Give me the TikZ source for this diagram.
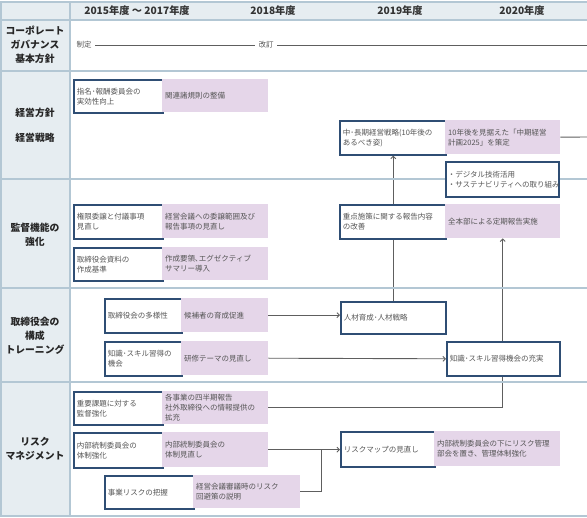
\documentclass[tikz,border=0pt]{standalone}
\usepackage{fontspec}
\setmainfont{Noto Sans CJK JP}
\usepackage{tikz}
\usetikzlibrary{arrows.meta,backgrounds}
\definecolor{navy}{HTML}{2F4E74}
\definecolor{lilac}{HTML}{E5D6E9}
\definecolor{pale}{HTML}{E6EDF1}
\definecolor{rulecol}{HTML}{B3C7D4}
\definecolor{ink}{HTML}{555555}
\definecolor{conncol}{HTML}{5E5E5E}

\begin{document}
\begin{tikzpicture}[x=1pt, y=-1pt,
	head/.style={font=\fontsize{10.2}{12}\selectfont\bfseries, text=black!80},
	lbl/.style={font=\fontsize{9.8}{14}\selectfont\bfseries, align=center, text=black!85},
	txt/.style={font=\fontsize{7.5}{10}\selectfont, text=ink},
	keybox/.style={txt, draw=navy, line width=1.6pt, fill=white, anchor=north west, align=left, inner xsep=3pt, inner ysep=0pt},
	actbox/.style={txt, fill=lilac, anchor=north west, align=left, inner xsep=3pt, inner ysep=0pt},
	gridline/.style={draw=rulecol, line width=1.2pt},
	conn/.style={draw=conncol, line width=0.9pt},
	>={Straight Barb[length=2.5pt,width=5pt]}]
	\useasboundingbox (0,0) rectangle (587,518);
	\fill[pale] (0,2) rectangle (587,20);
	\fill[pale] (0,20) rectangle (70,516);
	\foreach \y in {2,20,71,179,288,382,516}
		\draw[gridline] (0,\y) -- (587,\y);
	\draw[gridline] (1,2) -- (1,516) (70,2) -- (70,516);

	\node[head] (y1517) at (137,11) {2015年度 ～ 2017年度};
	\node[head] (y18) at (273,11) {2018年度};
	\node[head] (y19) at (400,11) {2019年度};
	\node[head] (y20) at (522,11) {2020年度};

	\node[lbl] (cg) at (35,45) {コーポレート\\ガバナンス\\基本方針};
	\node[lbl] (plan) at (35,125.5) {経営方針\\[11pt]経営戦略};
	\node[lbl] (sup) at (35,235) {監督機能の\\強化};
	\node[lbl] (brd) at (35,336) {取締役会の\\構成\\トレーニング};
	\node[lbl] (risk) at (35,449) {リスク\\マネジメント};

	\node[txt] (seitei) at (84,45) {制定};
	\node[txt] (kaitei) at (266,45) {改訂};
	\coordinate (cgend) at (587,45);

	\node[keybox, text width=83pt, minimum height=33pt] (a1) at (73,79) {指名･報酬委員会の\\実効性向上};
	\node[actbox, text width=100pt, minimum height=33pt] (a1p) at (162,79) {関連諸規則の整備};
	\node[keybox, text width=100pt, minimum height=34pt] (b1) at (339,120) {中･長期経営戦略(10年後の\\あるべき姿)};
	\node[actbox, text width=109pt, minimum height=34pt] (b1p) at (445,120) {10年後を見据えた「中期経営\\計画2025」を策定};
	\coordinate (planend) at (587,137);
	\node[keybox, text width=109pt, inner xsep=2pt, minimum height=35pt] (b2) at (445,161) {・デジタル技術活用\\・サステナビリティへの取り組み};

	\node[keybox, text width=83pt, minimum height=34pt] (c1) at (73,204) {権限委譲と付議事項\\見直し};
	\node[actbox, text width=100pt, minimum height=34pt] (c1p) at (162,204) {経営会議への委譲範囲及び\\報告事項の見直し};
	\node[keybox, text width=83pt, minimum height=33pt] (c2) at (73,247) {取締役会資料の\\作成基準};
	\node[actbox, text width=100pt, minimum height=33pt] (c2p) at (162,247) {作成要領､エグゼクティブ\\サマリー導入};
	\node[keybox, text width=100pt, minimum height=34pt] (c3) at (339,204) {重点施策に関する報告内容\\の改善};
	\node[actbox, text width=109pt, minimum height=34pt] (c3p) at (445,204) {全本部による定期報告実施};

	\node[keybox, text width=71pt, minimum height=34pt] (d1) at (104,298) {取締役会の多様性};
	\node[actbox, text width=81pt, minimum height=34pt] (d1p) at (181,298) {候補者の育成促進};
	\node[keybox, text width=71pt, minimum height=34pt] (d2) at (104,341) {知識･スキル習得の\\機会};
	\node[actbox, text width=81pt, minimum height=34pt] (d2p) at (181,341) {研修テーマの見直し};
	\node[keybox, text width=99pt, minimum height=32pt] (d3) at (340,301) {人材育成･人材戦略};
	\node[keybox, text width=107pt, minimum height=34pt] (d4) at (446,341) {知識･スキル習得機会の充実};

	\node[keybox, text width=83pt, minimum height=33pt] (e1) at (73,391) {重要課題に対する\\監督強化};
	\node[actbox, text width=100pt, minimum height=33pt] (e1p) at (162,391) {各事業の四半期報告\\社外取締役への情報提供の\\拡充};
	\node[keybox, text width=83pt, minimum height=35pt] (e2) at (73,432) {内部統制委員会の\\体制強化};
	\node[actbox, text width=100pt, minimum height=35pt] (e2p) at (162,432) {内部統制委員会の\\体制見直し};
	\node[keybox, text width=83pt, minimum height=33pt] (e3) at (104,475) {事業リスクの把握};
	\node[actbox, text width=101pt, minimum height=33pt] (e3p) at (193,475) {経営会議審議時のリスク\\回避策の説明};
	\node[keybox, text width=88pt, minimum height=35pt] (e4) at (340,431) {リスクマップの見直し};
	\node[actbox, text width=120pt, minimum height=35pt] (e4p) at (434,431) {内部統制委員会の下にリスク管理\\部会を置き、管理体制強化};
	\coordinate (riskjoin) at (321,449.5);

	\begin{pgfonlayer}{background}
		\path[conn]
		(seitei) edge (kaitei)
		(kaitei) edge (cgend)
		(b1p.east) edge (planend)
		(d1p.east) edge[->] (d1p.east -| d3.west)
		(d2p.east) edge[->] (d4.west)
		(e2p.east) edge[->] (e2p.east -| e4.west);
		\draw[conn, ->] (d3.north) -- (d3.north |- b1.south);
		\draw[conn, ->] (e1p.east) -| (c3p.south);
		\draw[conn] (e3p.east) -| (riskjoin);
	\end{pgfonlayer}
\end{tikzpicture}
\end{document}
